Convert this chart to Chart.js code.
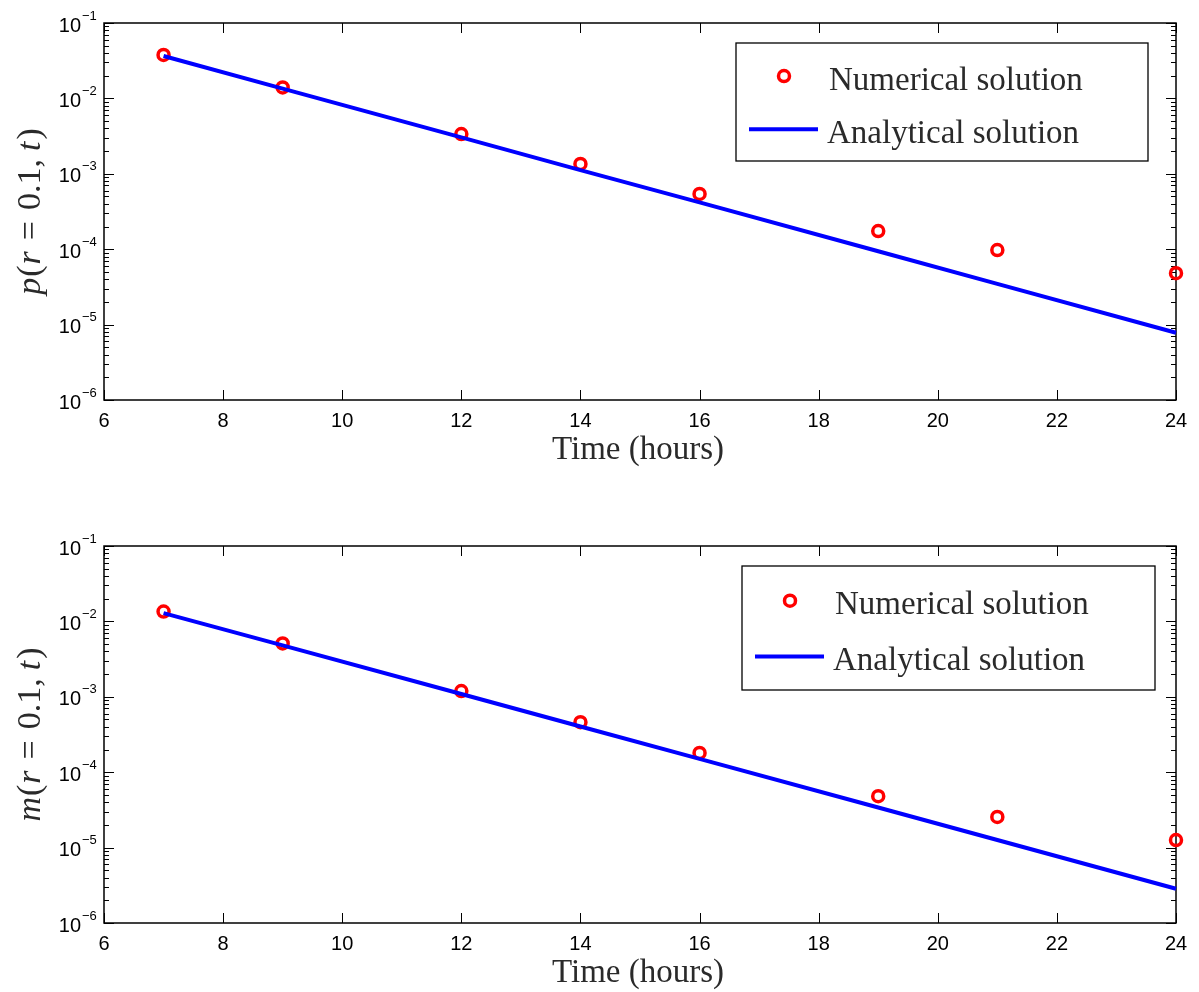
<!DOCTYPE html>
<html>
<head>
<meta charset="utf-8">
<script src="https://cdn.jsdelivr.net/npm/chart.js@4.4.0/dist/chart.umd.min.js"></script>
<style>
  body { margin: 0; background: #fff; }
  canvas { position: absolute; left: 0; }
</style>
</head>
<body>
<canvas id="chart-p" width="1199" height="523" style="top:0"></canvas>
<canvas id="chart-m" width="1199" height="469" style="top:523px"></canvas>
<script>
// values
const times = [7, 9, 12, 14, 16, 19, 21, 24];
const pNumerical = [3.77e-2, 1.40e-2, 3.37e-3, 1.35e-3, 5.4e-4, 1.74e-4, 9.75e-5, 4.8e-5];
const pAnalytical = [3.65e-2, 1.35e-2, 3.04e-3, 1.12e-3, 4.17e-4, 9.4e-5, 3.47e-5, 7.8e-6];
const mNumerical = [1.35e-2, 5.1e-3, 1.19e-3, 4.6e-4, 1.8e-4, 4.8e-5, 2.55e-5, 1.26e-5];
const mAnalytical = [1.29e-2, 4.81e-3, 1.09e-3, 4.04e-4, 1.50e-4, 3.40e-5, 1.26e-5, 2.85e-6];
const xTicks = [6, 8, 10, 12, 14, 16, 18, 20, 22, 24];
const yExponents = [-1, -2, -3, -4, -5, -6];
const legendLabels = ["Numerical solution", "Analytical solution"];
const xTitle = "Time (hours)";
// [text, italic, extra gap after]
const pLabel = [["p", true, 1], ["(", false, 1], ["r", true, 11], ["=", false, 11], ["0.1,", false, 8], ["t", true, 2], [")", false, 0]];
const mLabel = [["m", true, 1], ["(", false, 1], ["r", true, 11], ["=", false, 11], ["0.1,", false, 8], ["t", true, 2], [")", false, 0]];

const SERIF = '"Liberation Serif", "Times New Roman", serif';
const SANS = '"Liberation Sans", Arial, sans-serif';

const axesPlugin = {
  id: "axesPlugin",
  beforeDatasetsDraw(chart, args, opts) {
    const { ctx, chartArea: a, scales: { x, y } } = chart;
    ctx.save();
    ctx.strokeStyle = "#000";
    ctx.lineWidth = 1;
    ctx.beginPath();
    xTicks.forEach((v) => {
      const px = Math.round(x.getPixelForValue(v)) + 0.5;
      ctx.moveTo(px, a.bottom); ctx.lineTo(px, a.bottom - 10);
      ctx.moveTo(px, a.top); ctx.lineTo(px, a.top + 10);
    });
    yExponents.forEach((e) => {
      const py = Math.round(y.getPixelForValue(Math.pow(10, e))) + 0.5;
      ctx.moveTo(a.left, py); ctx.lineTo(a.left + 10, py);
      ctx.moveTo(a.right, py); ctx.lineTo(a.right - 10, py);
      if (e === -1) return;
      for (let k = 2; k <= 9; k++) {
        const my = Math.round(y.getPixelForValue(k * Math.pow(10, e))) + 0.5;
        ctx.moveTo(a.left, my); ctx.lineTo(a.left + 5, my);
        ctx.moveTo(a.right, my); ctx.lineTo(a.right - 5, my);
      }
    });
    ctx.stroke();

    ctx.lineWidth = 1.5;
    ctx.strokeRect(a.left, a.top, a.right - a.left, a.bottom - a.top);

    // tick labels
    ctx.fillStyle = "#000";
    ctx.font = "20px " + SANS;
    ctx.textAlign = "center";
    ctx.textBaseline = "alphabetic";
    xTicks.forEach((v) => {
      ctx.fillText(String(v), x.getPixelForValue(v), a.bottom + 27);
    });
    yExponents.forEach((e) => {
      const py = y.getPixelForValue(Math.pow(10, e));
      ctx.font = "20px " + SANS;
      ctx.textAlign = "right";
      ctx.fillText("10", a.left - 23, py + 8.5);
      ctx.font = "13px " + SANS;
      ctx.textAlign = "left";
      ctx.fillText("\u2212" + Math.abs(e), a.left - 22, py - 3.5);
    });

    // axis titles
    ctx.fillStyle = "#2a2a2a";
    ctx.font = "33px " + SERIF;
    ctx.textAlign = "center";
    ctx.fillText(xTitle, (a.left + a.right) / 2 - 2, a.bottom + 59);

    const parts = opts.yLabel.map(([t, it, gap]) => {
      ctx.font = (it ? "italic " : "") + "34px " + SERIF;
      return { t, it, w: ctx.measureText(t).width + gap };
    });
    const total = parts.reduce((s, p) => s + p.w, 0);
    ctx.translate(40, (a.top + a.bottom) / 2);
    ctx.rotate(-Math.PI / 2);
    ctx.textAlign = "left";
    let cx = -total / 2;
    parts.forEach((p) => {
      ctx.font = (p.it ? "italic " : "") + "34px " + SERIF;
      ctx.fillText(p.t, cx, 0);
      cx += p.w;
    });
    ctx.restore();
  },
  afterDraw(chart, args, opts) {
    const { ctx } = chart;
    const b = opts.legendBox;
    ctx.save();
    ctx.fillStyle = "#fff";
    ctx.fillRect(b.x, b.y, b.w, b.h);
    ctx.strokeStyle = "#000";
    ctx.lineWidth = 1.3;
    ctx.strokeRect(b.x, b.y, b.w, b.h);

    const row1 = b.y + b.h * 0.28;
    const row2 = b.y + b.h * 0.73;
    const scatter = chart.data.datasets[1];
    const line = chart.data.datasets[0];

    ctx.beginPath();
    ctx.arc(b.x + 48, row1, scatter.pointRadius, 0, Math.PI * 2);
    ctx.strokeStyle = scatter.pointBorderColor;
    ctx.lineWidth = scatter.pointBorderWidth;
    ctx.stroke();

    ctx.beginPath();
    ctx.moveTo(b.x + 13, row2);
    ctx.lineTo(b.x + 82, row2);
    ctx.strokeStyle = line.borderColor;
    ctx.lineWidth = line.borderWidth;
    ctx.stroke();

    ctx.fillStyle = "#2a2a2a";
    ctx.font = "33px " + SERIF;
    ctx.textAlign = "left";
    ctx.textBaseline = "alphabetic";
    ctx.fillText(scatter.label, b.x + 93, row1 + 13.5);
    ctx.fillText(line.label, b.x + 91, row2 + 13.5);
    ctx.restore();
  }
};

function makeChart(id, numerical, analytical, yLabel, legendBox, padBottom) {
  return new Chart(document.getElementById(id), {
    type: "scatter",
    data: {
      datasets: [
        {
          type: "line",
          label: legendLabels[1],
          data: times.map((t, i) => ({ x: t, y: analytical[i] })),
          borderColor: "#0000ff",
          borderWidth: 4,
          pointRadius: 0,
          fill: false,
          tension: 0,
          clip: false,
          order: 0
        },
        {
          label: legendLabels[0],
          data: times.map((t, i) => ({ x: t, y: numerical[i] })),
          pointRadius: 5.5,
          pointBorderWidth: 3.5,
          pointBorderColor: "#ff0000",
          pointBackgroundColor: "rgba(0,0,0,0)",
          clip: false,
          order: 1
        }
      ]
    },
    options: {
      responsive: false,
      animation: false,
      devicePixelRatio: 1,
      layout: { padding: { left: 104, right: 23, top: 23, bottom: padBottom } },
      scales: {
        x: { type: "linear", min: 6, max: 24, display: false },
        y: { type: "logarithmic", min: 1e-6, max: 1e-1, display: false }
      },
      plugins: {
        legend: { display: false },
        tooltip: { enabled: false },
        axesPlugin: { yLabel, legendBox }
      }
    },
    plugins: [axesPlugin]
  });
}

makeChart("chart-p", pNumerical, pAnalytical, pLabel, { x: 736, y: 43, w: 412, h: 118 }, 123);
makeChart("chart-m", mNumerical, mAnalytical, mLabel, { x: 742, y: 43, w: 413, h: 124 }, 69);
</script>
</body>
</html>
